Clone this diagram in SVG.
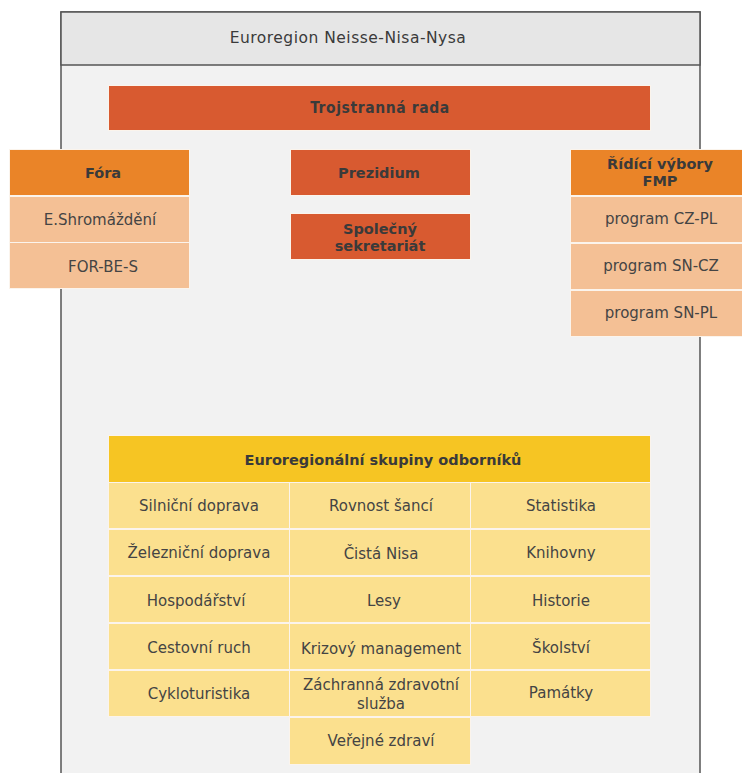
<svg xmlns="http://www.w3.org/2000/svg" width="742" height="773" viewBox="0 0 742 773">
<style>
.t{font-family:"DejaVu Sans",Verdana,sans-serif;font-size:15px;fill:#444;text-anchor:middle;dominant-baseline:central}
.b{font-weight:bold;font-size:14.5px;fill:#3a3a3a}
.c{font-family:"DejaVu Sans Condensed","DejaVu Sans",sans-serif;font-size:15.5px;fill:#3a3a3a}
.ti{font-family:"DejaVu Sans",sans-serif;font-size:15.5px;letter-spacing:0.5px;fill:#3a3a3a}
.red{fill:#d85a30}
.org{fill:#ea8428}
.lor{fill:#f4c095}
.yel{fill:#f6c523}
.lye{fill:#fbe08e}
.cell{stroke:#fbf4ec;stroke-width:1}
</style>
<rect width="742" height="773" fill="#ffffff"/>
<g id="frame">
<rect x="61" y="12" width="639" height="780" fill="#f2f2f2" stroke="#555" stroke-width="1.5"/>
<rect x="61" y="12" width="639" height="53" fill="#e6e6e6" stroke="#555" stroke-width="1.5"/>
<text class="t ti" x="348" y="38">Euroregion Neisse-Nisa-Nysa</text>
</g>
<g id="connectors"></g>
<g id="trojstranna">
<rect class="red cell" x="108.5" y="85.5" width="542" height="45"/>
<text class="t c b" x="380" y="108" style="font-size:15.5px;letter-spacing:0.6px">Trojstranná rada</text>
</g>
<g id="fora">
<rect class="org cell" x="9.5" y="149.5" width="180" height="46"/>
<text class="t b" x="103" y="173">Fóra</text>
<rect class="lor cell" x="9.5" y="196.5" width="180" height="46"/>
<text class="t" x="100" y="220">E.Shromáždění</text>
<rect class="lor cell" x="9.5" y="242.5" width="180" height="46"/>
<text class="t" x="103" y="267">FOR-BE-S</text>
</g>
<g id="prezidium">
<rect class="red cell" x="290.5" y="149.5" width="180" height="46"/>
<text class="t b" x="379" y="173">Prezidium</text>
</g>
<g id="sekretariat">
<rect class="red cell" x="290.5" y="213.5" width="180" height="46"/>
<text class="t b" x="380" y="229">Společný</text>
<text class="t b" x="380" y="246">sekretariát</text>
</g>
<g id="ridici">
<rect class="org cell" x="570.5" y="149.5" width="172" height="46"/>
<text class="t b" x="660" y="164">Řídící výbory</text>
<text class="t b" x="660" y="181">FMP</text>
<rect class="lor cell" x="570.5" y="196.5" width="172" height="46"/>
<text class="t" x="661" y="219">program CZ-PL</text>
<rect class="lor cell" x="570.5" y="243.5" width="172" height="46"/>
<text class="t" x="661" y="266">program SN-CZ</text>
<rect class="lor cell" x="570.5" y="290.5" width="172" height="46"/>
<text class="t" x="661" y="313">program SN-PL</text>
</g>
<g id="skupiny">
<rect class="yel cell" x="108.5" y="435.5" width="542" height="47"/>
<text class="t b" x="383" y="460">Euroregionální skupiny odborníků</text>
</g>
<g id="c-silnicni"><rect class="lye cell" x="108.5" y="482.5" width="181" height="46"/><text class="t" x="199" y="506">Silniční doprava</text></g>
<g id="c-rovnost"><rect class="lye cell" x="289.5" y="482.5" width="181" height="46"/><text class="t" x="381" y="506">Rovnost šancí</text></g>
<g id="c-statistika"><rect class="lye cell" x="470.5" y="482.5" width="180" height="46"/><text class="t" x="561" y="506">Statistika</text></g>
<g id="c-zeleznicni"><rect class="lye cell" x="108.5" y="529.5" width="181" height="46"/><text class="t" x="199" y="553">Železniční doprava</text></g>
<g id="c-cista"><rect class="lye cell" x="289.5" y="529.5" width="181" height="46"/><text class="t" x="381" y="554">Čistá Nisa</text></g>
<g id="c-knihovny"><rect class="lye cell" x="470.5" y="529.5" width="180" height="46"/><text class="t" x="561" y="553">Knihovny</text></g>
<g id="c-hospodarstvi"><rect class="lye cell" x="108.5" y="576.5" width="181" height="46"/><text class="t" x="196" y="601">Hospodářství</text></g>
<g id="c-lesy"><rect class="lye cell" x="289.5" y="576.5" width="181" height="46"/><text class="t" x="384" y="601">Lesy</text></g>
<g id="c-historie"><rect class="lye cell" x="470.5" y="576.5" width="180" height="46"/><text class="t" x="561" y="601">Historie</text></g>
<g id="c-cestovni"><rect class="lye cell" x="108.5" y="623.5" width="181" height="46"/><text class="t" x="199" y="648">Cestovní ruch</text></g>
<g id="c-krizovy"><rect class="lye cell" x="289.5" y="623.5" width="181" height="46"/><text class="t" x="381" y="649">Krizový management</text></g>
<g id="c-skolstvi"><rect class="lye cell" x="470.5" y="623.5" width="180" height="46"/><text class="t" x="561" y="648">Školství</text></g>
<g id="c-cyklo"><rect class="lye cell" x="108.5" y="670.5" width="181" height="46"/><text class="t" x="199" y="694">Cykloturistika</text></g>
<g id="c-zachranna"><rect class="lye cell" x="289.5" y="670.5" width="181" height="46"/><text class="t" x="381" y="685">Záchranná zdravotní</text><text class="t" x="381" y="704">služba</text></g>
<g id="c-pamatky"><rect class="lye cell" x="470.5" y="670.5" width="180" height="46"/><text class="t" x="561" y="693">Památky</text></g>
<g id="c-verejne"><rect class="lye cell" x="289.5" y="717.5" width="181" height="47"/><text class="t" x="381" y="741">Veřejné zdraví</text></g>
</svg>
